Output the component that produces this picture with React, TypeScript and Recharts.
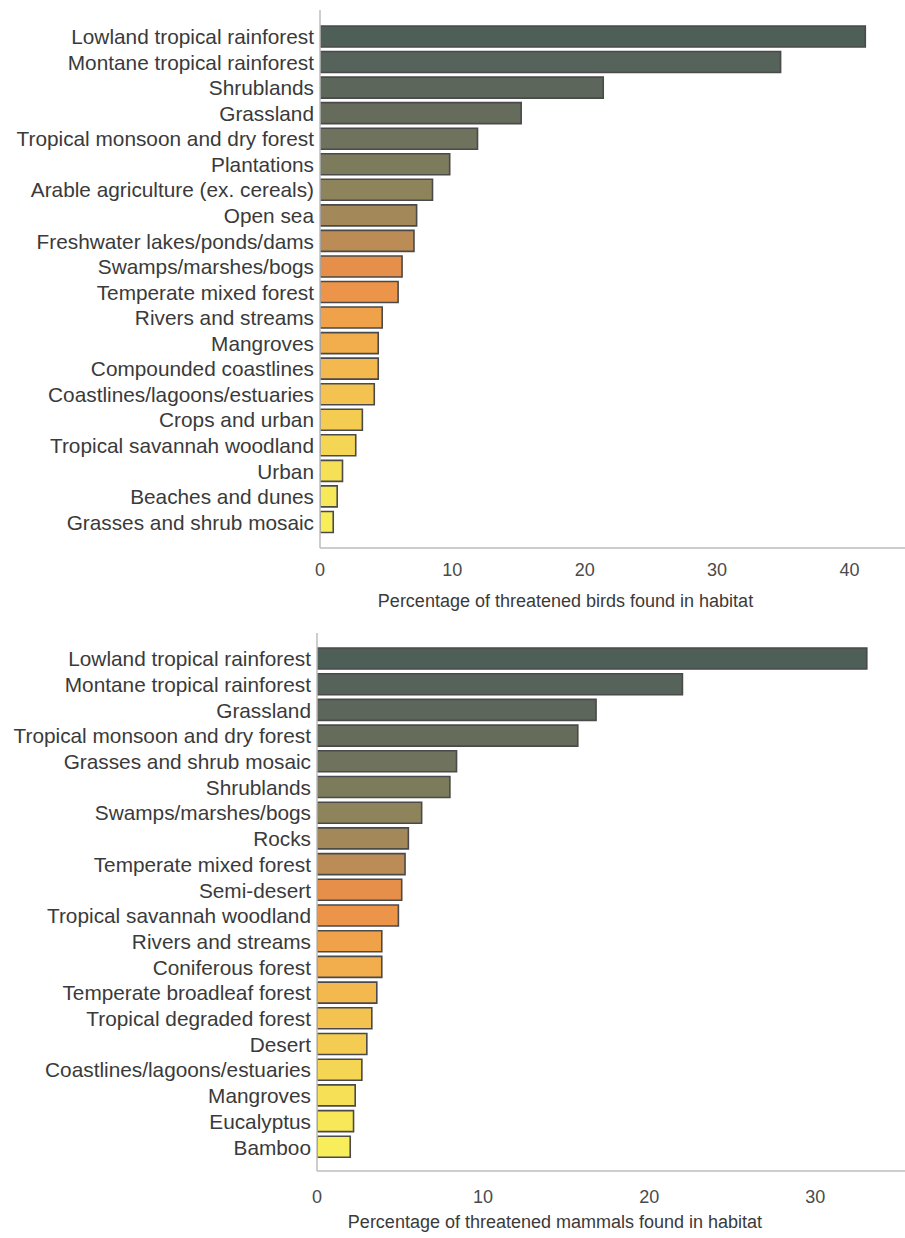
import { BarChart, Bar, XAxis, YAxis, Cell } from 'recharts'

const birdHabitats = [
  'Lowland tropical rainforest',
  'Montane tropical rainforest',
  'Shrublands',
  'Grassland',
  'Tropical monsoon and dry forest',
  'Plantations',
  'Arable agriculture (ex. cereals)',
  'Open sea',
  'Freshwater lakes/ponds/dams',
  'Swamps/marshes/bogs',
  'Temperate mixed forest',
  'Rivers and streams',
  'Mangroves',
  'Compounded coastlines',
  'Coastlines/lagoons/estuaries',
  'Crops and urban',
  'Tropical savannah woodland',
  'Urban',
  'Beaches and dunes',
  'Grasses and shrub mosaic',
]
const birdPct = [41.2, 34.8, 21.4, 15.2, 11.9, 9.8, 8.5, 7.3, 7.1, 6.2, 5.9, 4.7, 4.4, 4.4, 4.1, 3.2, 2.7, 1.7, 1.3, 1.0]

const mammalHabitats = [
  'Lowland tropical rainforest',
  'Montane tropical rainforest',
  'Grassland',
  'Tropical monsoon and dry forest',
  'Grasses and shrub mosaic',
  'Shrublands',
  'Swamps/marshes/bogs',
  'Rocks',
  'Temperate mixed forest',
  'Semi-desert',
  'Tropical savannah woodland',
  'Rivers and streams',
  'Coniferous forest',
  'Temperate broadleaf forest',
  'Tropical degraded forest',
  'Desert',
  'Coastlines/lagoons/estuaries',
  'Mangroves',
  'Eucalyptus',
  'Bamboo',
]
const mammalPct = [33.1, 22.0, 16.8, 15.7, 8.4, 8.0, 6.3, 5.5, 5.3, 5.1, 4.9, 3.9, 3.9, 3.6, 3.3, 3.0, 2.7, 2.3, 2.2, 2.0]

const birdTicks = [0, 10, 20, 30, 40]
const mammalTicks = [0, 10, 20, 30]

// dark slate green at the top fading to yellow at the bottom
const RAMP = [
  '#4e5f58', '#56635a', '#5d665b', '#666c5c', '#6f725c',
  '#7c7b5c', '#8e845c', '#a3895a', '#bb8c55', '#e58f4a',
  '#ec9449', '#f0a24a', '#f2ae4c', '#f3b84e', '#f3c250',
  '#f4cc52', '#f5d654', '#f6e056', '#f6e858', '#f7ee5a',
]

const FONT = '"Liberation Sans", Arial, Helvetica, sans-serif'
const TEXT = '#3a3a3a'
const SPINE = '#bdbdbd'

interface PanelProps {
  names: string[]
  values: number[]
  ticks: number[]
  maxX: number
  xLabel: string
  top: number
  height: number
  marginTop: number
  axisW: number
  padTop: number
  padBottom: number
  xAxisH: number
  tickMargin: number
  labelDx: number
  labelOffset: number
  topBorder: boolean
}

function Panel(p: PanelProps) {
  const data = p.names.map((name, i) => ({ name, value: p.values[i] }))
  return (
    <div style={{ position: 'absolute', left: 0, top: p.top }}>
      <BarChart
        width={905}
        height={p.height}
        data={data}
        layout="vertical"
        margin={{ top: p.marginTop, right: 0, bottom: 0, left: 0 }}
      >
        <XAxis
          type="number"
          domain={[0, p.maxX]}
          ticks={p.ticks}
          allowDataOverflow
          height={p.xAxisH}
          axisLine={{ stroke: SPINE, strokeWidth: 1.5 }}
          tickLine={false}
          tickSize={6}
          tickMargin={p.tickMargin}
          tick={{ fill: '#4a4a4a', fontSize: 18, fontFamily: FONT }}
          label={{
            value: p.xLabel,
            position: 'insideBottom',
            offset: p.labelOffset,
            dx: p.labelDx,
            fill: TEXT,
            fontSize: 18,
            fontFamily: FONT,
          }}
        />
        {p.topBorder && (
          <XAxis
            xAxisId="top"
            orientation="top"
            type="number"
            domain={[0, p.maxX]}
            height={0}
            tick={false}
            tickLine={false}
            axisLine={{ stroke: SPINE, strokeWidth: 1.5 }}
          />
        )}
        <YAxis
          type="category"
          dataKey="name"
          width={p.axisW}
          interval={0}
          padding={{ top: p.padTop, bottom: p.padBottom }}
          axisLine={{ stroke: SPINE, strokeWidth: 1.5 }}
          tickLine={false}
          tickSize={0}
          tickMargin={6}
          tick={{ fill: TEXT, fontSize: 20.8, fontFamily: FONT }}
        />
        <Bar dataKey="value" barSize={21} stroke="#4a4a4a" strokeWidth={1.6} isAnimationActive={false}>
          {data.map((_, i) => (
            <Cell key={`cell-${i}`} fill={RAMP[i]} />
          ))}
        </Bar>
      </BarChart>
    </div>
  )
}

export default function App() {
  return (
    <div style={{ position: 'absolute', left: 0, top: 0, width: 905, height: 1238, background: '#fff' }}>
      <Panel
        names={birdHabitats}
        values={birdPct}
        ticks={birdTicks}
        maxX={44.2}
        xLabel="Percentage of threatened birds found in habitat"
        top={0}
        height={618}
        marginTop={10}
        axisW={320}
        padTop={14}
        padBottom={13}
        xAxisH={70}
        tickMargin={9}
        labelDx={-47}
        labelOffset={11}
        topBorder={false}
      />
      <Panel
        names={mammalHabitats}
        values={mammalPct}
        ticks={mammalTicks}
        maxX={35.4}
        xLabel="Percentage of threatened mammals found in habitat"
        top={600}
        height={638}
        marginTop={33}
        axisW={317}
        padTop={13}
        padBottom={11}
        xAxisH={67}
        tickMargin={13}
        labelDx={-56}
        labelOffset={10}
        topBorder
      />
    </div>
  )
}
